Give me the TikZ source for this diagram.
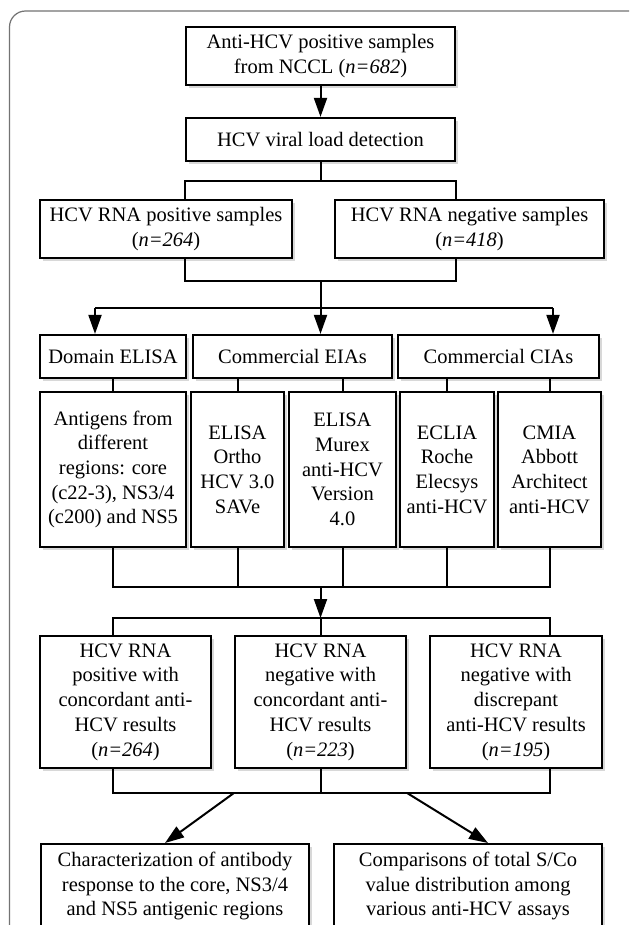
\documentclass[tikz,border=0pt]{standalone}
\usepackage{fontspec}
\setmainfont{Liberation Serif}
\usetikzlibrary{arrows.meta,shadows,calc}
\begin{document}
\begin{tikzpicture}[x=1pt,y=-1pt,
  box/.style={draw=black, line width=2.2pt, fill=white, align=center, inner sep=0pt,
    font=\fontsize{20.5}{24.7}\selectfont,
    drop shadow={shadow xshift=2.5pt,shadow yshift=-3pt,opacity=0.3}},
  conn/.style={line width=2pt, draw=black},
  arr/.style={conn, -{Triangle[length=19pt,width=13pt]}}]
\useasboundingbox (0,0) rectangle (629,925);
\clip (0,0) rectangle (629,925);
\fill[white] (0,0) rectangle (629,925);
\draw[black!55, line width=1.2pt, rounded corners=16pt] (9.5,11) rectangle (645,960);

% top
\node[box, minimum width=269pt, minimum height=58pt] (b1) at (320.5,56) {Anti-HCV positive samples\\from NCCL (\textit{n=682})};
\node[box, minimum width=269pt, minimum height=43pt] (b2) at (320.5,139.5) {HCV viral load detection};
\node[box, minimum width=252pt, minimum height=58pt] (b3) at (166,229) {HCV RNA positive samples\\(\textit{n=264})};
\node[box, minimum width=269pt, minimum height=58pt] (b4) at (469.5,229) {HCV RNA negative samples\\(\textit{n=418})};

% headers
\node[box, minimum width=146pt, minimum height=43pt] (h1) at (113,356.5) {Domain ELISA};
\node[box, minimum width=199pt, minimum height=43pt] (h2) at (292.5,356.5) {Commercial EIAs};
\node[box, minimum width=201pt, minimum height=43pt] (h3) at (498.5,356.5) {Commercial CIAs};

% assays
\node[box, minimum width=146pt, minimum height=155pt] (s1) at (113,469.5) {Antigens from\\different\\regions: core\\(c22-3), NS3/4\\(c200) and NS5};
\node[box, minimum width=93pt, minimum height=155pt] (s2) at (237.5,469.5) {ELISA\\Ortho\\HCV 3.0\\SAVe};
\node[box, minimum width=107pt, minimum height=155pt] (s3) at (342.5,469.5) {ELISA\\Murex\\anti-HCV\\Version\\4.0};
\node[box, minimum width=94pt, minimum height=155pt] (s4) at (447,469.5) {ECLIA\\Roche\\Elecsys\\anti-HCV};
\node[box, minimum width=103pt, minimum height=155pt] (s5) at (549.5,469.5) {CMIA\\Abbott\\Architect\\anti-HCV};

% results
\node[box, minimum width=171pt, minimum height=132pt] (r1) at (125.5,702) {HCV RNA\\positive with\\concordant anti-\\HCV results\\(\textit{n=264})};
\node[box, minimum width=171pt, minimum height=132pt] (r2) at (320.5,702) {HCV RNA\\negative with\\concordant anti-\\HCV results\\(\textit{n=223})};
\node[box, minimum width=172pt, minimum height=132pt] (r3) at (516,702) {HCV RNA\\negative with\\discrepant\\anti-HCV results\\(\textit{n=195})};

% final
\node[box, minimum width=268pt, minimum height=84pt, anchor=north] (f1) at (175,843) {Characterization of antibody\\response to the core, NS3/4\\and NS5 antigenic regions};
\node[box, minimum width=268pt, minimum height=84pt, anchor=north] (f2) at (468,843) {Comparisons of total S/Co\\value distribution among\\various anti-HCV assays};

% connectors
\draw[arr] (b1) -- (b2);
\coordinate (j1) at (320.5,181);
\draw[conn] (b2.south) -- (j1);
\draw[conn] (b2.south west |- b3.north) -- (b2.south west |- j1) -- (b2.south east |- j1) -- (b2.south east |- b4.north);
\coordinate (j2) at (320.5,281);
\coordinate (j3) at (320.5,308);
\draw[conn] (b2.south west |- b3.south) -- (b2.south west |- j2) -- (b2.south east |- j2) -- (b2.south east |- b4.south);
\draw[conn] (j2) -- (j3);
\coordinate (aL) at (95,308);
\coordinate (aR) at (553,308);
\draw[conn] (aL) -- (aR);
\draw[arr] (aL) -- (aL |- h1.north);
\draw[arr] (j3) -- (j3 |- h2.north);
\draw[arr] (aR) -- (aR |- h3.north);

\draw[conn] (h1) -- (s1);
\draw[conn] (s2.north |- h2.south) -- (s2.north);
\draw[conn] (s3.north |- h2.south) -- (s3.north);
\draw[conn] (s4.north |- h3.south) -- (s4.north);
\draw[conn] (s5.north |- h3.south) -- (s5.north);

\coordinate (j4) at (320.5,587);
\coordinate (j5) at (320.5,618);
\draw[conn] (s1.south) -- (s1.south |- j4) -- (s5.south |- j4) -- (s5.south);
\draw[conn] (s2.south) -- (s2.south |- j4);
\draw[conn] (s3.south) -- (s3.south |- j4);
\draw[conn] (s4.south) -- (s4.south |- j4);
\draw[arr] (j4) -- (j5);
\draw[conn] (s1.south |- r1.north) -- (s1.south |- j5) -- (s5.south |- j5) -- (s5.south |- r3.north);
\draw[conn] (j5) -- (r2.north);

\coordinate (j6) at (320.5,793);
\draw[conn] (s1.south |- r1.south) -- (s1.south |- j6) -- (s5.south |- j6) -- (s5.south |- r3.south);
\draw[conn] (r2.south) -- (j6);
\draw[arr] (r2.south west |- j6) -- ($(f1.north)+(-10,0)$);
\draw[arr] (r2.south east |- j6) -- ($(f2.north)+(20,0)$);
\end{tikzpicture}
\end{document}
